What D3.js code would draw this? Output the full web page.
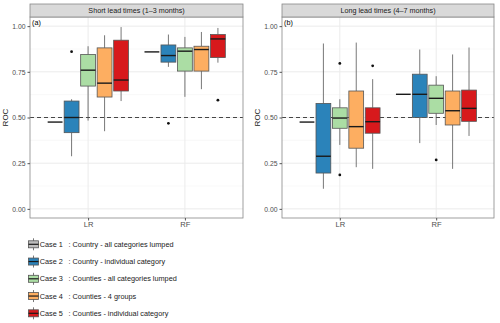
<!DOCTYPE html>
<html>
<head>
<meta charset="utf-8">
<script src="https://cdn.jsdelivr.net/npm/d3@7"></script>
<style>
  body { margin: 0; background: #fff; }
  text { font-family: "Liberation Sans", Arial, sans-serif; }
</style>
</head>
<body>
<script>
const cases = ["Case 1", "Case 2", "Case 3", "Case 4", "Case 5"]
const caseText = [": Country - all categories lumped", ": Country - individual category", ": Counties - all categories lumped", ": Counties - 4 groups", ": Counties - individual category"]
const colors = ["#bdbdbd", "#2b83ba", "#abdda4", "#fdae61", "#d7191c"]
const methods = ["LR", "RF"]
const panelTitles = ["Short lead times (1\u20133 months)", "Long lead times (4\u20137 months)"]
const panelTags = ["(a)", "(b)"]
const yTicks = [0, 0.25, 0.5, 0.75, 1]

// [lower whisker, q1, median, q3, upper whisker] per case
const shortLR = [[0.475, 0.475, 0.475, 0.475, 0.475], [0.288, 0.417, 0.50, 0.59, 0.60], [0.483, 0.672, 0.759, 0.845, 0.89], [0.425, 0.612, 0.688, 0.881, 0.95], [0.59, 0.645, 0.705, 0.923, 0.995]]
const shortRF = [[0.859, 0.859, 0.859, 0.859, 0.859], [0.777, 0.803, 0.839, 0.897, 0.954], [0.613, 0.754, 0.863, 0.881, 0.941], [0.655, 0.754, 0.872, 0.89, 0.968], [0.80, 0.828, 0.93, 0.954, 0.99]]
const longLR = [[0.475, 0.475, 0.475, 0.475, 0.475], [0.11, 0.196, 0.288, 0.577, 0.905], [0.35, 0.441, 0.497, 0.553, 0.60], [0.228, 0.332, 0.45, 0.645, 0.91], [0.219, 0.414, 0.477, 0.553, 0.71]]
const longRF = [[0.627, 0.627, 0.627, 0.627, 0.627], [0.36, 0.50, 0.627, 0.737, 0.872], [0.459, 0.523, 0.605, 0.677, 0.726], [0.219, 0.459, 0.537, 0.645, 0.845], [0.399, 0.479, 0.55, 0.65, 0.883]]
// outliers per case
const shortLROut = [[], [0.86], [], [], []]
const shortRFOut = [[], [0.468], [], [], [0.595]]
const longLROut = [[], [], [0.796, 0.186], [], [0.783]]
const longRFOut = [[], [], [0.268], [], []]

const panelStats = [[shortLR, shortRF], [longLR, longRF]]
const panelOut = [[shortLROut, shortRFOut], [longLROut, longRFOut]]

const w = 500, h = 323
const panelX = [[30, 243], [282, 494]]
const stripTop = 4, stripBot = 17, panelBot = 218

const svg = d3.select("body").append("svg").attr("width", w).attr("height", h)
const y = d3.scaleLinear().domain([-0.05, 1.05]).range([panelBot, stripBot])

panelTitles.forEach((title, p) => {
  const [x0, x1] = panelX[p]
  const x = d3.scalePoint().domain(methods).range([x0, x1]).padding(0.6)
  const dodge = d3.scaleBand().domain(cases).range([-x.step() * 0.4175, x.step() * 0.4175]).paddingInner(0.1)
  const g = svg.append("g")

  // grid
  const minor = [0.125, 0.375, 0.625, 0.875]
  g.selectAll(".minor").data(minor).enter().append("line").attr("x1", x0).attr("x2", x1).attr("y1", d => y(d)).attr("y2", d => y(d)).attr("stroke", "#f4f4f4").attr("stroke-width", 0.6)
  g.selectAll(".major").data(yTicks).enter().append("line").attr("x1", x0).attr("x2", x1).attr("y1", d => y(d)).attr("y2", d => y(d)).attr("stroke", "#ebebeb").attr("stroke-width", 1)
  g.selectAll(".vmajor").data(methods).enter().append("line").attr("x1", d => x(d)).attr("x2", d => x(d)).attr("y1", stripBot).attr("y2", panelBot).attr("stroke", "#ebebeb").attr("stroke-width", 1)

  // reference line
  g.append("line").attr("x1", x0).attr("x2", x1).attr("y1", y(0.5)).attr("y2", y(0.5)).attr("stroke", "#333").attr("stroke-width", 0.9).attr("stroke-dasharray", "4,3")

  // boxes
  methods.forEach((m, mi) => {
    panelStats[p][mi].forEach((s, ci) => {
      const cx = x(m) + dodge(cases[ci]) + dodge.bandwidth() / 2
      const bw = dodge.bandwidth()
      const bg = g.append("g")
      bg.append("line").attr("x1", cx).attr("x2", cx).attr("y1", y(s[0])).attr("y2", y(s[1])).attr("stroke", "#555").attr("stroke-width", 0.8)
      bg.append("line").attr("x1", cx).attr("x2", cx).attr("y1", y(s[3])).attr("y2", y(s[4])).attr("stroke", "#555").attr("stroke-width", 0.8)
      bg.append("rect").attr("x", cx - bw / 2).attr("y", y(s[3])).attr("width", bw).attr("height", Math.max(0, y(s[1]) - y(s[3]))).attr("fill", colors[ci]).attr("stroke", "#555").attr("stroke-width", 0.8)
      bg.append("line").attr("x1", cx - bw / 2).attr("x2", cx + bw / 2).attr("y1", y(s[2])).attr("y2", y(s[2])).attr("stroke", "#1a1a1a").attr("stroke-width", 1.4)
      bg.selectAll("circle").data(panelOut[p][mi][ci]).enter().append("circle").attr("cx", cx).attr("cy", d => y(d)).attr("r", 1.4).attr("fill", "#111")
    })
  })

  // border and strip
  g.append("rect").attr("x", x0).attr("y", stripBot).attr("width", x1 - x0).attr("height", panelBot - stripBot).attr("fill", "none").attr("stroke", "#888").attr("stroke-width", 0.8)
  g.append("rect").attr("x", x0).attr("y", stripTop).attr("width", x1 - x0).attr("height", stripBot - stripTop).attr("fill", "#d9d9d9").attr("stroke", "#888").attr("stroke-width", 0.8)
  g.append("text").attr("x", (x0 + x1) / 2).attr("y", (stripTop + stripBot) / 2 + 2.5).attr("text-anchor", "middle").attr("font-size", 7.2).attr("fill", "#1a1a1a").text(title)
  g.append("text").attr("x", x0 + 2).attr("y", stripBot + 7.5).attr("font-size", 7.2).attr("fill", "#000").text(panelTags[p])

  // axes
  const ya = g.append("g").attr("transform", "translate(" + x0 + ",0)").call(d3.axisLeft(y).tickValues(yTicks).tickFormat(d3.format(".2f")).tickSize(2.5).tickPadding(2))
  ya.select(".domain").remove()
  ya.selectAll("line").attr("stroke", "#555")
  ya.selectAll("text").attr("font-size", 6.8).attr("fill", "#4d4d4d").attr("font-family", "Liberation Sans, Arial, sans-serif")
  const xa = g.append("g").attr("transform", "translate(0," + panelBot + ")").call(d3.axisBottom(x).tickSize(2.5).tickPadding(1.5))
  xa.select(".domain").remove()
  xa.selectAll("line").attr("stroke", "#555")
  xa.selectAll("text").attr("font-size", 7.6).attr("fill", "#4d4d4d").attr("font-family", "Liberation Sans, Arial, sans-serif")

  g.append("text").attr("transform", "translate(" + (x0 - 22) + "," + y(0.5) + ") rotate(-90)").attr("text-anchor", "middle").attr("font-size", 8).attr("fill", "#1a1a1a").text("ROC")
})

// legend
const legY = d3.scalePoint().domain(cases).range([244.3, 313.3])
const leg = svg.selectAll(".leg").data(cases).enter().append("g").attr("transform", d => "translate(28," + legY(d) + ")")
leg.append("line").attr("x1", 5.5).attr("x2", 5.5).attr("y1", -6).attr("y2", 6).attr("stroke", "#555").attr("stroke-width", 0.8)
leg.append("rect").attr("x", 0.5).attr("y", -3.5).attr("width", 10).attr("height", 7).attr("fill", (d, i) => colors[i]).attr("stroke", "#555").attr("stroke-width", 0.8)
leg.append("line").attr("x1", 0.5).attr("x2", 10.5).attr("y1", 0).attr("y2", 0).attr("stroke", "#1a1a1a").attr("stroke-width", 1.2)
leg.append("text").attr("x", 11.8).attr("y", 2.5).attr("font-size", 7.3).attr("fill", "#1a1a1a").text(d => d)
leg.append("text").attr("x", 40.5).attr("y", 2.5).attr("font-size", 7.3).attr("fill", "#1a1a1a").text((d, i) => caseText[i])
</script>
</body>
</html>
